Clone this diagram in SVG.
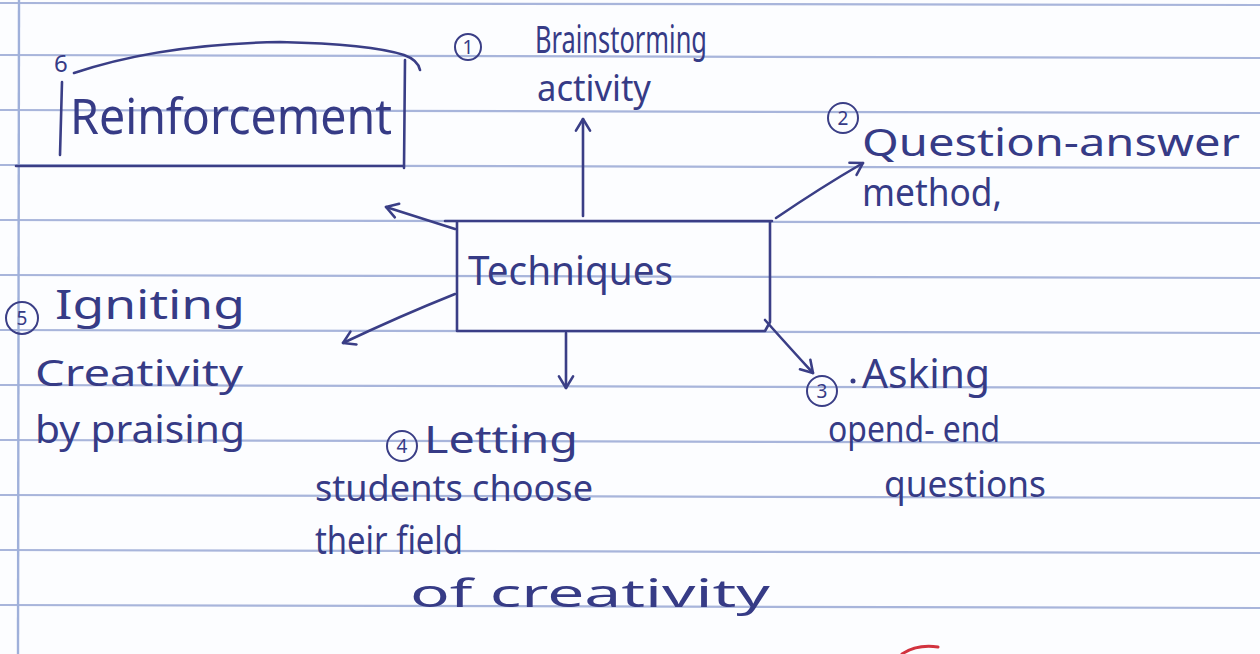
<svg xmlns="http://www.w3.org/2000/svg" width="1260" height="654" viewBox="0 0 1260 654">
  <defs>
    <style>
      .paper { fill: #fcfdff; }
      .rule { stroke: #a8b5db; stroke-width: 2.2; fill: none; }
      .margin { stroke: #9fb0da; stroke-width: 2.4; fill: none; }
      .ink { stroke: #3a3e86; stroke-width: 2.6; fill: none; stroke-linecap: round; stroke-linejoin: round; }
      .hand { font-family: "Noto Sans", "DejaVu Sans", sans-serif; fill: #363b86; }
      .num { font-family: "Noto Sans", "DejaVu Sans", sans-serif; fill: #363b86; font-size: 19px; text-anchor: middle; }
      .badge { stroke: #3a3e86; stroke-width: 2; fill: none; }
      .conn { stroke: #3a3e86; stroke-width: 2.6; fill: none; stroke-linecap: round; marker-end: url(#head); }
    </style>
    <marker id="head" viewBox="0 0 14 14" refX="12" refY="7" markerWidth="18" markerHeight="18" markerUnits="userSpaceOnUse" orient="auto">
      <path d="M3,1.5 L12,7 L3,12.5" fill="none" stroke="#3a3e86" stroke-width="2" stroke-linecap="round" stroke-linejoin="round"/>
    </marker>
  </defs>

  <!-- ruled notebook page -->
  <g id="page">
    <rect class="paper" x="0" y="0" width="1260" height="654"/>
    <path class="rule" d="M0,3 L1260,5 M0,55 L1260,58 M0,110 L1260,113 M0,165 L1260,168 M0,220 L1260,223 M0,275 L1260,278 M0,330 L1260,333 M0,385 L1260,388 M0,440 L1260,443 M0,495 L1260,498 M0,550 L1260,553 M0,605 L1260,608"/>
    <path class="margin" d="M19,0 L18,654"/>
  </g>

  <!-- connectors from the central box -->
  <g id="connectors">
    <path class="conn" d="M583,216 L583,119"/>
    <path class="conn" d="M776,218 Q820,188 863,163"/>
    <path class="conn" d="M765,320 Q790,348 813,373"/>
    <path class="conn" d="M566,333 L566,388"/>
    <path class="conn" d="M455,294 Q400,316 343,343"/>
    <path class="conn" d="M455,229 Q420,218 386,207"/>
  </g>

  <g id="techniques">
    <path class="ink" d="M445,221 L772,221 M457,221 L457,331 L765,331 M770,221 L770,322 L765,331"/>
    <text class="hand" x="468" y="285" font-size="40" textLength="205" lengthAdjust="spacingAndGlyphs">Techniques</text>
  </g>

  <g id="reinforcement">
    <path class="ink" d="M74,73 Q160,44 280,42 Q370,44 404,55 Q418,60 420,70 M405,60 L404,168 M16,166 L404,166 M62,82 L60,155"/>
    <text class="hand" x="54" y="72" font-size="24">6</text>
    <text class="hand" x="70" y="134" font-size="50" textLength="322" lengthAdjust="spacingAndGlyphs">Reinforcement</text>
  </g>

  <g id="brainstorming">
    <circle class="badge" cx="468" cy="47" r="13"/>
    <text class="num" x="468" y="54">1</text>
    <text class="hand" x="535" y="53" font-size="38" textLength="172" lengthAdjust="spacingAndGlyphs">Brainstorming</text>
    <text class="hand" x="537" y="101" font-size="36" textLength="114" lengthAdjust="spacingAndGlyphs">activity</text>
  </g>

  <g id="question-answer">
    <circle class="badge" cx="843" cy="118" r="15"/>
    <text class="num" x="843" y="125">2</text>
    <text class="hand" x="862" y="156" font-size="38" textLength="378" lengthAdjust="spacingAndGlyphs">Question-answer</text>
    <text class="hand" x="862" y="206" font-size="38" textLength="140" lengthAdjust="spacingAndGlyphs">method,</text>
  </g>

  <g id="asking">
    <circle class="badge" cx="822" cy="391" r="15"/>
    <text class="num" x="822" y="398">3</text>
    <circle cx="853" cy="381" r="2.5" fill="#363b86"/>
    <text class="hand" x="862" y="388" font-size="40" textLength="128" lengthAdjust="spacingAndGlyphs">Asking</text>
    <text class="hand" x="828" y="442" font-size="36" textLength="172" lengthAdjust="spacingAndGlyphs">opend- end</text>
    <text class="hand" x="884" y="497" font-size="36" textLength="162" lengthAdjust="spacingAndGlyphs">questions</text>
  </g>

  <g id="letting-students">
    <circle class="badge" cx="402" cy="446" r="15"/>
    <text class="num" x="402" y="453">4</text>
    <text class="hand" x="424" y="453" font-size="38" textLength="154" lengthAdjust="spacingAndGlyphs">Letting</text>
    <text class="hand" x="315" y="501" font-size="36" textLength="278" lengthAdjust="spacingAndGlyphs">students choose</text>
    <text class="hand" x="315" y="554" font-size="38" textLength="148" lengthAdjust="spacingAndGlyphs">their field</text>
    <text class="hand" x="410" y="607" font-size="38" textLength="360" lengthAdjust="spacingAndGlyphs">of creativity</text>
  </g>

  <g id="igniting">
    <circle class="badge" cx="22" cy="318" r="16"/>
    <text class="num" x="22" y="325">5</text>
    <text class="hand" x="55" y="319" font-size="40" textLength="190" lengthAdjust="spacingAndGlyphs">Igniting</text>
    <text class="hand" x="35" y="386" font-size="36" textLength="208" lengthAdjust="spacingAndGlyphs">Creativity</text>
    <text class="hand" x="35" y="443" font-size="38" textLength="210" lengthAdjust="spacingAndGlyphs">by praising</text>
  </g>

  <!-- red pen stroke at the bottom edge -->
  <path d="M902,654 Q917,644 938,647" fill="none" stroke="#d2333f" stroke-width="3" stroke-linecap="round"/>
</svg>
